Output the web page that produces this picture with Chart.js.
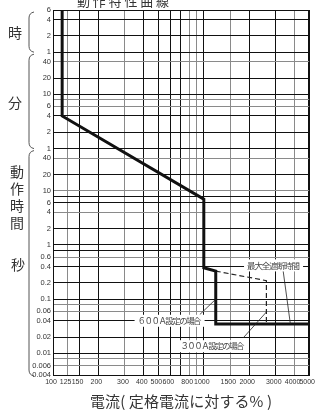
<!DOCTYPE html>
<html lang="ja">
<head>
<meta charset="utf-8">
<title>動作特性曲線</title>
<script src="https://cdn.jsdelivr.net/npm/chart.js@4"></script>
<style>
  html, body { margin:0; padding:0; background:#fff; }
  #wrap { width:320px; height:412px; position:relative; }
</style>
</head>
<body>
<div id="wrap"><canvas id="c"></canvas></div>
<script>
// ---- data (current in % of rating, time in seconds) ----
var curveX = [115, 115, 1000, 1000, 1200, 1200, 5000];
var curveY = [21600, 240, 7, 0.38, 0.33, 0.035, 0.035];
var dashX = [1200, 2600, 2600];
var dashY = [0.33, 0.22, 0.035];

var xTicks  = [100, 125, 150, 200, 300, 400, 500, 600, 700, 800, 900, 1000, 1500, 2000, 3000, 4000, 5000];
var xLabels = ['100','125','150','200','300','400','500','600','','800','','1000','1500','2000','3000','4000','5000'];

var yTicks  = [21600, 14400, 7200, 3600, 2400, 1200, 600, 480, 360, 240, 120, 60, 40, 20, 10, 8, 6, 4, 2, 1,
               0.8, 0.6, 0.4, 0.2, 0.1, 0.08, 0.06, 0.04, 0.02, 0.01, 0.008, 0.006, 0.004];
var yLabels = ['6','4','2','1','40','20','10','','6','4','2','1','40','20','10','','6','4','2','1',
               '','0.6','0.4','0.2','0.1','','0.06','0.04','0.02','0.01','','0.006','0.004'];

// ---- style helpers ----
var grayX = [125, 300, 800, 900, 1500, 4000];
var grayY = [2400, 480, 360, 40, 10, 4, 0.6, 0.08, 0.06, 0.008, 0.006];

function spread(ctx, str, cx, cy, width) {
  var chars = Array.from(str);
  var ws = chars.map(function(c){ return ctx.measureText(c).width; });
  var nat = ws.reduce(function(a,b){ return a+b; }, 0);
  var gap = chars.length > 1 ? (width - nat) / (chars.length - 1) : 0;
  var x = cx - width / 2;
  ctx.textAlign = 'left';
  chars.forEach(function(c, i){ ctx.fillText(c, x, cy); x += ws[i] + gap; });
}

var notes = [
  {text:'最大全遮断時間', x:2900, y:0.42, w:53, lead:[[3350,0.35],[3750,0.035]]},
  {text:'６００Ａ設定の場合', x:593, y:0.04, w:64, lead:[[940,0.052],[1200,0.1]]},
  {text:'３００Ａ設定の場合', x:1140, y:0.0136, w:64, lead:[[1830,0.0195],[2600,0.058]]}
];
var braces = [[21600, 3600], [3600, 60], [60, 0.004]];

var decor = {
  id: 'decor',
  afterDatasetsDraw: function(chart) {
    var ctx = chart.ctx, xs = chart.scales.x, ys = chart.scales.y;
    ctx.save();
    // leader lines
    ctx.strokeStyle = '#222';
    ctx.lineWidth = 0.8;
    notes.forEach(function(n){
      ctx.beginPath();
      ctx.moveTo(xs.getPixelForValue(n.lead[0][0]), ys.getPixelForValue(n.lead[0][1]));
      ctx.lineTo(xs.getPixelForValue(n.lead[1][0]), ys.getPixelForValue(n.lead[1][1]));
      ctx.stroke();
    });
    // note labels
    ctx.font = '8.5px "Noto Sans CJK JP"';
    ctx.textBaseline = 'middle';
    notes.forEach(function(n){
      var cx = xs.getPixelForValue(n.x), cy = ys.getPixelForValue(n.y);
      ctx.fillStyle = '#fff';
      ctx.fillRect(cx - n.w/2 - 3, cy - 6, n.w + 6, 12);
      ctx.fillStyle = '#444';
      spread(ctx, n.text, cx, cy, n.w);
    });
    // braces on the left
    ctx.strokeStyle = '#555';
    ctx.lineWidth = 1;
    braces.forEach(function(b){
      var y0 = ys.getPixelForValue(b[0]) + 2, y1 = ys.getPixelForValue(b[1]);
      if (b[1] === 0.004) y1 += 1;
      ctx.beginPath();
      ctx.moveTo(34, y0);
      ctx.quadraticCurveTo(29, y0 + 1, 29, y0 + 6);
      ctx.lineTo(29, y1 - 6);
      ctx.quadraticCurveTo(29, y1 - 1, 34, y1);
      ctx.stroke();
    });
    // side labels
    ctx.fillStyle = '#333';
    ctx.font = '14px "Noto Sans CJK JP"';
    ctx.textAlign = 'center';
    ctx.fillText('時', 15, 33);
    ctx.fillText('分', 15, 103);
    ['動','作','時','間'].forEach(function(c, i){ ctx.fillText(c, 17, 172 + i * 17); });
    ctx.fillText('秒', 18, 265);
    // title (cut at the top edge) and x-axis title
    ctx.font = '13px "Noto Sans CJK JP"';
    spread(ctx, '動作特性曲線', 123, 1, 92);
    ctx.font = '15px "Noto Sans CJK JP"';
    spread(ctx, '電流( 定格電流に対する% )', 181, 401, 182);
    ctx.restore();
  }
};

new Chart(document.getElementById('c'), {
  type: 'scatter',
  data: {
    datasets: [{
      data: curveX.map(function(x, i){ return {x:x, y:curveY[i]}; }),
      showLine: true,
      borderColor: '#111',
      borderWidth: 3,
      pointRadius: 0,
      tension: 0
    }, {
      data: dashX.map(function(x, i){ return {x:x, y:dashY[i]}; }),
      showLine: true,
      borderColor: '#222',
      borderWidth: 1.2,
      borderDash: [5, 3],
      pointRadius: 0,
      tension: 0
    }]
  },
  options: {
    responsive: true,
    maintainAspectRatio: false,
    animation: false,
    layout: { padding: { top: 10, right: 10, bottom: 0, left: 0 } },
    plugins: { legend: { display: false }, tooltip: { enabled: false } },
    scales: {
      x: {
        type: 'logarithmic',
        min: 100, max: 5000,
        afterBuildTicks: function(a){ a.ticks = xTicks.map(function(v){ return {value:v}; }); },
        afterFit: function(s){ s.height = 37; },
        ticks: {
          autoSkip: false, maxRotation: 0, padding: 3, labelOffset: -2,
          color: '#333', font: { size: 7, family: 'Liberation Sans' },
          callback: function(v, i){ return xLabels[i]; }
        },
        grid: {
          drawTicks: false,
          color: function(c){ return c.tick && grayX.indexOf(c.tick.value) >= 0 ? '#8a8a8a' : '#111'; },
          lineWidth: function(c){ return c.tick && c.tick.value === 5000 ? 2 : 1; }
        },
        border: { color: '#111' }
      },
      y: {
        type: 'logarithmic',
        min: 0.004, max: 21600,
        afterBuildTicks: function(a){ a.ticks = yTicks.map(function(v){ return {value:v}; }); },
        afterFit: function(s){ s.width = 53; },
        ticks: {
          autoSkip: false, padding: 2,
          color: '#333', font: { size: 7.5, family: 'Liberation Sans' },
          callback: function(v, i){ return yLabels[i]; }
        },
        grid: {
          drawTicks: false,
          color: function(c){ return c.tick && grayY.indexOf(c.tick.value) >= 0 ? '#8a8a8a' : '#111'; }
        },
        border: { color: '#111' }
      }
    }
  },
  plugins: [decor]
});
</script>
</body>
</html>
